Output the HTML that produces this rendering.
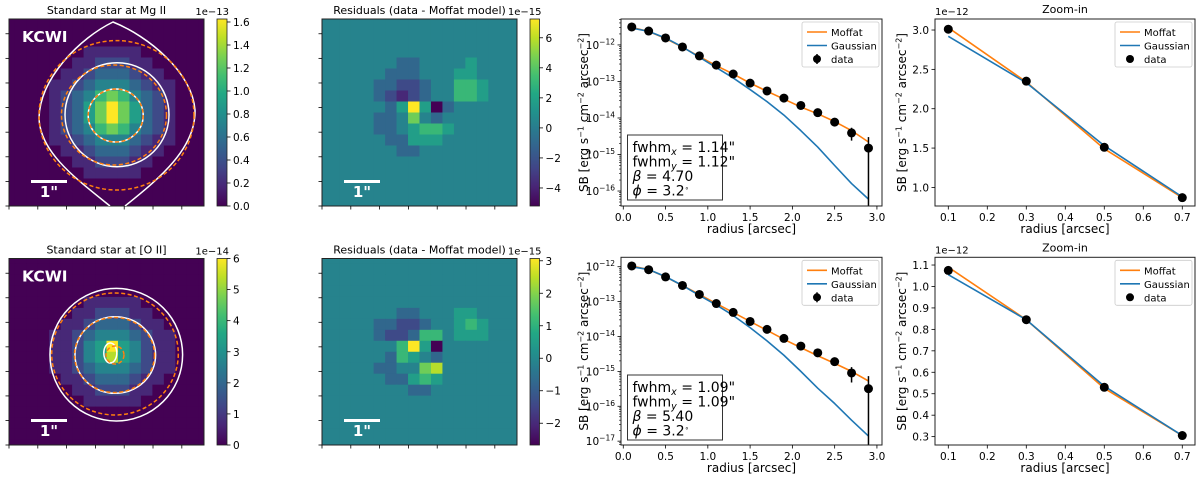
<!DOCTYPE html>
<html><head><meta charset="utf-8"><style>
html,body{margin:0;padding:0;background:#fff;}
svg{display:block;font-family:"DejaVu Sans","Liberation Sans",sans-serif;}
</style></head><body>
<svg id="fig" width="1200" height="479" viewBox="0 0 1200 479" xmlns="http://www.w3.org/2000/svg"></svg>
<script>
// ---------------- data ----------------
const radii = [0.1,0.3,0.5,0.7,0.9,1.1,1.3,1.5,1.7,1.9,2.1,2.3,2.5,2.7,2.9];
const dataMg = [3.1e-12,2.4e-12,1.55e-12,0.88e-12,5.0e-13,2.8e-13,1.6e-13,9.0e-14,5.5e-14,3.5e-14,2.2e-14,1.4e-14,7.7e-15,3.9e-15,1.5e-15];
const errMg = [0,0,0,0,0,0,0,0,0,0,0,0,0,1.5e-15,1.5e-15];
const moffatMg = [3.0e-12,2.35e-12,1.5e-12,0.87e-12,4.8e-13,2.7e-13,1.6e-13,9.0e-14,5.4e-14,3.3e-14,2.0e-14,1.3e-14,8.0e-15,4.5e-15,2.2e-15];
const gaussMg = [2.9e-12,2.35e-12,1.55e-12,0.88e-12,4.6e-13,2.4e-13,1.25e-13,6.0e-14,2.8e-14,1.2e-14,4.5e-15,1.6e-15,5.0e-16,1.6e-16,6.0e-17];
const dataO2 = [1.05e-12,8.2e-13,5.1e-13,2.9e-13,1.6e-13,8.8e-14,4.9e-14,2.7e-14,1.6e-14,8.8e-15,5.3e-15,3.4e-15,1.9e-15,9.0e-16,3.2e-16];
const errO2 = [0,0,0,0,0,0,0,0,0,0,0,0,0,4.2e-16,4.1e-16];
const moffatO2 = [1.05e-12,8.3e-13,5.1e-13,2.9e-13,1.6e-13,8.8e-14,4.9e-14,2.7e-14,1.5e-14,8.3e-15,4.8e-15,2.8e-15,1.7e-15,1.0e-15,5.3e-16];
const gaussO2 = [1.0e-12,8.3e-13,5.2e-13,2.9e-13,1.5e-13,8.0e-14,4.0e-14,1.8e-14,7.5e-15,2.9e-15,1.0e-15,3.3e-16,1.2e-16,4.0e-17,1.4e-17];
const zoomRadii = [0.1,0.3,0.5,0.7];
const zoomDataMg = [3.01,2.35,1.51,0.87];
const zoomMoffatMg = [3.03,2.34,1.49,0.87];
const zoomGaussMg = [2.92,2.33,1.53,0.88];
const zoomDataO2 = [1.075,0.845,0.53,0.305];
const zoomMoffatO2 = [1.09,0.845,0.525,0.305];
const zoomGaussO2 = [1.055,0.845,0.535,0.305];
const logTicksMg = [-12,-13,-14,-15,-16];
const logTicksO2 = [-12,-13,-14,-15,-16,-17];
const xTicksLog = [0.0,0.5,1.0,1.5,2.0,2.5,3.0];
const xTicksZoom = [0.1,0.2,0.3,0.4,0.5,0.6,0.7];
const yTicksZoomMg = [1.0,1.5,2.0,2.5,3.0];
const yTicksZoomO2 = [0.3,0.4,0.5,0.6,0.7,0.8,0.9,1.0,1.1];
const cbTicksMg = [0.0,0.2,0.4,0.6,0.8,1.0,1.2,1.4,1.6];
const cbTicksO2 = [0,1,2,3,4,5,6];
const cbTicksResMg = [-4,-2,0,2,4,6];
const cbTicksResO2 = [-2,-1,0,1,2,3];
const starMg = ["000000000000000000","000000000000000000","000000000000000000","000000011111000000","000000112221100000","000001123332110000","000011234443211000","000012346764321000","000012357975321000","000012357975321000","000012346764321000","000011234443211000","000001123332110000","000000112221100000","000000011111000000","000000000000000000","000000000000000000","000000000000000000"];
const starO2 = ["000000000000000000","000000000000000000","000000000000000000","000000000000000000","000000011111000000","000000112221100000","000001123332110000","000011234443211000","000011245954211000","000011245854211000","000011234443211000","000001123332110000","000000112221100000","000000011111000000","000000000000000000","000000000000000000","000000000000000000","000000000000000000"];
const resMg = ["444444444444444444","444444444444444444","444444444444444444","444444444444444444","444444433444454444","444444333444554444","444443322344665444","444443212344665444","444444359503444444","444443347434444444","444443345665444444","444444335554444444","444444433444444444","444444444444444444","444444444444444444","444444444444444444","444444444444444444","444444444444444444"];
const resO2 = ["444444444444444444","444444444444444444","444444444444444444","444444444444444444","444444444444444444","444444433444554444","444443322344565444","444443223664555444","444444469504444444","444444365434444444","444443344784444444","444444335654444444","444444443344444444","444444444444444444","444444444444444444","444444444444444444","444444444444444444","444444444444444444"];

// ---------------- helpers ----------------
const NS = "http://www.w3.org/2000/svg";
const svg = document.getElementById('fig');
function E(tag, attrs, parent){ const e=document.createElementNS(NS,tag); for(const k in attrs) e.setAttribute(k,attrs[k]); (parent||svg).appendChild(e); return e; }
function T(x,y,str,attrs,parent){ const e=E('text',Object.assign({x:x,y:y,'font-size':10.5,fill:'#000'},attrs||{}),parent); e.textContent=str; return e; }
const VIR=["#440154","#482475","#414487","#355f8d","#2a788e","#21918c","#22a884","#44bf70","#7ad151","#bddf26","#fde725"];
function hex(c){return [parseInt(c.slice(1,3),16),parseInt(c.slice(3,5),16),parseInt(c.slice(5,7),16)];}
function vir(f){ f=Math.max(0,Math.min(1,f)); const p=f*10, i=Math.min(9,Math.floor(p)), t=p-i; const a=hex(VIR[i]), b=hex(VIR[i+1]); return 'rgb('+a.map((v,k)=>Math.round(v+(b[k]-v)*t)).join(',')+')'; }
let clipId=0;
function clip(x,y,w,h){ const id='c'+(clipId++); const cp=E('clipPath',{id:id}); E('rect',{x:x,y:y,width:w,height:h},cp); return 'url(#'+id+')'; }
function sup(el, base, exp){ const a=E('tspan',{},el); a.textContent=base; const b=E('tspan',{dy:-4.5,'font-size':7.5},el); b.textContent=exp; }

// --------------- image panel ---------------
function imagePanel(g, grid, x0, y0, w, h, title, star){
  const cw=w/17, ch=h/17;
  const cg=E('g',{'clip-path':clip(x0,y0,w,h)},g);
  grid.forEach((row,j)=>{ for(let i=0;i<row.length;i++){
    const px=E('rect',{x:x0-cw/2+i*cw,y:y0-ch/2+j*ch,width:cw+0.6,height:ch+0.6,fill:vir(parseInt(row[i])/9)},cg);
    
    
  }});
  const fr=E('rect',{x:x0,y:y0,width:w,height:h,fill:'none',stroke:'#222','stroke-width':1},g);
  
  
  for(let k=0;k<8;k++){ const yy=y0+h-k*(h/7.6); E('line',{x1:x0-3.5,x2:x0,y1:yy,y2:yy,stroke:'#000','stroke-width':0.8},g); }
  for(let k=0;k<7;k++){ const xx=x0+k*(w/6.77); E('line',{x1:xx,x2:xx,y1:y0+h,y2:y0+h+3.5,stroke:'#000','stroke-width':0.8},g); }
  const tt=T(x0+w/2,y0-5,title,{'text-anchor':'middle','font-size':11},g);
  
  
  if(star){ const k=T(x0+13,y0+23,'KCWI',{'font-size':15.5,'font-weight':'bold',fill:'#fff'},g);
    
     }
  const sb=E('line',{x1:x0+22,x2:x0+58,y1:y0+h-24.5,y2:y0+h-24.5,stroke:'#fff','stroke-width':3},g);
  
  
  const st=T(x0+40,y0+h-9,'1"',{'text-anchor':'middle','font-size':15,'font-weight':'bold',fill:'#fff'},g);
  
  
}
function colorbar(g, x0, y0, w, h, vmin, vmax, ticks, fmt, expo){
  const id='gr'+(clipId++);
  const lg=E('linearGradient',{id:id,x1:0,y1:1,x2:0,y2:0},g);
  for(let k=0;k<=20;k++) E('stop',{offset:k/20,'stop-color':vir(k/20)},lg);
  const r=E('rect',{x:x0,y:y0,width:w,height:h,fill:'url(#'+id+')',stroke:'#222','stroke-width':0.8},g);
  
  
  ticks.forEach(v=>{ const yy=y0+h-(v-vmin)/(vmax-vmin)*h;
    E('line',{x1:x0+w,x2:x0+w+3.5,y1:yy,y2:yy,stroke:'#000','stroke-width':0.8},g);
    const lab=T(x0+w+6,yy+4,fmt(v),{},g);
    
     });
  const ex=T(x0+w+2,y0-4,expo,{'text-anchor':'end','font-size':10},g);
  
  
}
function minus(s){return s.replace('-','\u2212');}

// --------------- plot panel ---------------
function plotPanel(g, cfg){
  const {x0,x1,y0,y1,xmin,xmax,ymin,ymax,log}=cfg;
  const sx=v=>x0+(v-xmin)/(xmax-xmin)*(x1-x0);
  const ty=v=>log?(v<=0?-99:Math.log10(v)):v;
  const sy=v=>y1-(ty(v)-ymin)/(ymax-ymin)*(y1-y0);
  const cg=E('g',{'clip-path':clip(x0,y0,x1-x0,y1-y0)},g);
  const pts=arr=>cfg.xs.map((x,i)=>sx(x).toFixed(2)+','+sy(arr[i]).toFixed(2)).join(' ');
  const lm=E('polyline',{points:pts(cfg.moffat),fill:'none',stroke:'#ff7f0e','stroke-width':1.6,'stroke-linejoin':'round'},cg);
  
  
  const lgs=E('polyline',{points:pts(cfg.gauss),fill:'none',stroke:'#1f77b4','stroke-width':1.6,'stroke-linejoin':'round'},cg);
  
  
  cfg.xs.forEach((x,i)=>{
    if(cfg.err && cfg.err[i]>0){ const eb=E('line',{x1:sx(x),x2:sx(x),y1:sy(cfg.data[i]+cfg.err[i]),y2:Math.min(y1+2,sy(cfg.data[i]-cfg.err[i])),stroke:'#000','stroke-width':1.5},cg);
      
       }
    const c=E('circle',{cx:sx(x),cy:sy(cfg.data[i]),r:4.5,fill:'#000'},cg);
    
    
  });
  const fr=E('rect',{x:x0,y:y0,width:x1-x0,height:y1-y0,fill:'none',stroke:'#222','stroke-width':1},g);
  
  
  cfg.xticks.forEach(v=>{ const xx=sx(v);
    E('line',{x1:xx,x2:xx,y1:y1,y2:y1+3.5,stroke:'#000','stroke-width':0.8},g);
    const l=T(xx,y1+15,v.toFixed(1),{'text-anchor':'middle'},g);
    
     });
  if(log){
    for(let d=Math.floor(ymin);d<=Math.ceil(ymax);d++) for(let m=2;m<10;m++){ const lv=d+Math.log10(m);
      if(lv>ymin&&lv<ymax){ const yy=y1-(lv-ymin)/(ymax-ymin)*(y1-y0); E('line',{x1:x0-2,x2:x0,y1:yy,y2:yy,stroke:'#000','stroke-width':0.6},g);} }
    cfg.yticks.forEach(p=>{ const yy=y1-(p-ymin)/(ymax-ymin)*(y1-y0);
      E('line',{x1:x0-3.5,x2:x0,y1:yy,y2:yy,stroke:'#000','stroke-width':0.8},g);
      const l=T(x0-6,yy+4,'',{'text-anchor':'end'},g); sup(l,'10',minus(String(p)));
      
       });
  } else {
    cfg.yticks.forEach(v=>{ const yy=sy(v);
      E('line',{x1:x0-3.5,x2:x0,y1:yy,y2:yy,stroke:'#000','stroke-width':0.8},g);
      const l=T(x0-6,yy+4,v.toFixed(1),{'text-anchor':'end'},g);
      
       });
    const ex=T(x0,y0-4,'1e\u221212',{'font-size':10},g);
    
    
    const tt=T((x0+x1)/2,y0-6,'Zoom-in',{'text-anchor':'middle','font-size':11},g);
    
    
  }
  const xl=T((x0+x1)/2,y1+27,'radius [arcsec]',{'text-anchor':'middle','font-size':12},g);
  
  
  const ylx=cfg.ylx, yc=(y0+y1)/2;
  const yl=E('text',{x:ylx,y:yc,'font-size':12,'text-anchor':'middle',transform:'rotate(-90 '+ylx+' '+yc+')'},g);
  
  
  const parts=[['SB [erg s',0],['\u22121',1],[' cm',0],['\u22122',1],[' arcsec',0],['\u22122',1],[']',0]];
  parts.forEach(([s,isSup])=>{ const a=isSup?{dy:-4.5,'font-size':8}:{dy:4.5};
    if(s==='SB [erg s') a.dy=0;
    const sp=E('tspan',a,yl); sp.textContent=s; });
  // legend
  const lx=x1-80, ly=y0+3;
  const lgG=E('g',{},g);
  
  
  E('rect',{x:lx,y:ly,width:77,height:45,rx:2,fill:'#fff',stroke:'#ccc','stroke-width':0.8},lgG);
  [['Moffat','#ff7f0e'],['Gaussian','#1f77b4']].forEach(([n,c],k)=>{ const yy=ly+10+k*13.5;
    const ln=E('line',{x1:lx+5,x2:lx+25,y1:yy,y2:yy,stroke:c,'stroke-width':1.6},lgG);
    
    
    const lt=T(lx+29,yy+4,n,{'font-size':10},lgG);
    
     });
  const dy=ly+37;
  if(log) E('line',{x1:lx+15,x2:lx+15,y1:dy-5,y2:dy+5,stroke:'#000','stroke-width':1.5},lgG);
  E('circle',{cx:lx+15,cy:dy,r:4,fill:'#000'},lgG);
  const dt=T(lx+29,dy+4,'data',{'font-size':10},lgG);
  
  
  if(cfg.box){
    const bg=E('g',{},g);
    
    
    const bx=x0+6.5, by=cfg.boxTop;
    E('rect',{x:bx,y:by,width:95,height:65,fill:'#fff',stroke:'#333','stroke-width':1},bg);
    cfg.box.forEach((ln,k)=>{ const t=E('text',{x:bx+5,y:by+17+k*14.5,'font-size':14},bg);
      ln.forEach(([s,st])=>{ const a={}; if(st==='sub'){a.dy=3;a['font-size']=9.5;a['font-style']='italic';} if(st==='back'){a.dy=-3;} if(st==='it'){a['font-style']='italic';} if(st==='deg'){a.dy=-5;a['font-size']=7;}
        const sp=E('tspan',a,t); sp.textContent=s; }); });
  }
}

// --------------- rows ---------------
function row(r){
  const g=E('g',{});
  
  
  const ig=E('g',{},g);
  
  
  imagePanel(ig, r.star, 9, r.iy0, 195, r.iy1-r.iy0, r.title, true);
  const cgp=E('g',{'clip-path':clip(9,r.iy0,195,r.iy1-r.iy0)},ig);
  r.white.forEach(c=>{ const e=c.d?E('path',{d:c.d,fill:'none',stroke:'#fff','stroke-width':1.5},cgp):E('ellipse',{cx:c[0],cy:c[1],rx:c[2],ry:c[3],fill:'none',stroke:'#fff','stroke-width':1.5},cgp);
    
     });
  r.orange.forEach(c=>{ const e=E('ellipse',{cx:c[0],cy:c[1],rx:c[2],ry:c[3],fill:'none',stroke:'#ff7f0e','stroke-width':1.5,'stroke-dasharray':'4,2.5'},cgp);
    
     });
  colorbar(ig,217,r.iy0,10,r.iy1-r.iy0,0,r.cbMax,r.cbTicks,r.cbFmt,r.cbExp);
  const rg=E('g',{},g);
  
  
  imagePanel(rg, r.res, 322, r.iy0, 195, r.iy1-r.iy0, 'Residuals (data - Moffat model)', false);
  colorbar(rg,530,r.iy0,9.5,r.iy1-r.iy0,r.rMin,r.rMax,r.rTicks,v=>minus(String(v)),r.rExp);
  const lp=E('g',{},g);
  
  
  plotPanel(lp,{x0:621,x1:882,y0:r.py0,y1:r.py1,xmin:-0.027,xmax:3.06,ymin:r.lmin,ymax:r.lmax,log:true,
    xs:radii,data:r.data,err:r.err,moffat:r.moffat,gauss:r.gauss,xticks:xTicksLog,yticks:r.logTicks,ylx:588,box:r.box,boxTop:r.boxTop});
  const zp=E('g',{},g);
  
  
  plotPanel(zp,{x0:935,x1:1195,y0:r.py0,y1:r.py1,xmin:0.0659,xmax:0.7326,ymin:r.zmin,ymax:r.zmax,log:false,
    xs:zoomRadii,data:r.zdata,moffat:r.zmoffat,gauss:r.zgauss,xticks:xTicksZoom,yticks:r.zticks,ylx:906});
}
function box(fx,fy,b){ return [[['fwhm',''],['x','sub'],[' = '+fx+'"','back']],[['fwhm',''],['y','sub'],[' = '+fy+'"','back']],[['\u03b2','it'],[' = '+b,'']],[['\u03d5','it'],[' = 3.2',''],['\u2218','deg']]]; }
row({name:'mg-ii-row',iy0:19,iy1:206,title:'Standard star at Mg II',star:starMg,
  white:[{d:'M110,206 C75,178 40,152 39,118 C40,78 80,38 113,22 C148,36 192,72 195,110 C196,148 160,178 125,206'},[117,114.7,52,52],[115.7,115.5,27.5,26.5]],
  orange:[[116.5,115.3,77.5,74.7],[114,115,52.5,50],[115.7,115.5,27.5,26.5]],
  cbMax:1.626,cbTicks:cbTicksMg,cbFmt:v=>v.toFixed(1),cbExp:'1e\u221213',
  res:resMg,rMin:-5.2,rMax:7.25,rTicks:cbTicksResMg,rExp:'1e\u221215',
  py0:19,py1:206,lmin:-16.41,lmax:-11.29,data:dataMg,err:errMg,moffat:moffatMg,gauss:gaussMg,logTicks:logTicksMg,
  box:box('1.14','1.12','4.70'),boxTop:135,
  zmin:0.764,zmax:3.14,zdata:zoomDataMg,zmoffat:zoomMoffatMg,zgauss:zoomGaussMg,zticks:yTicksZoomMg});
row({name:'o-ii-row',iy0:258.5,iy1:445,title:'Standard star at [O II]',star:starO2,
  white:[[116.3,354.7,66.3,66.3],[115.3,355,40.3,38.3],[110.3,353,6.5,10]],
  orange:[[115,354,63.3,61],[114.5,355,40,37.5],[115,355,9,9]],
  cbMax:6.0,cbTicks:cbTicksO2,cbFmt:v=>String(v),cbExp:'1e\u221214',
  res:resO2,rMin:-2.67,rMax:3.07,rTicks:cbTicksResO2,rExp:'1e\u221215',
  py0:257.3,py1:445,lmin:-17.11,lmax:-11.73,data:dataO2,err:errO2,moffat:moffatO2,gauss:gaussO2,logTicks:logTicksO2,
  box:box('1.09','1.09','5.40'),boxTop:375,
  zmin:0.261,zmax:1.136,zdata:zoomDataO2,zmoffat:zoomMoffatO2,zgauss:zoomGaussO2,zticks:yTicksZoomO2});
</script>
</body></html>
